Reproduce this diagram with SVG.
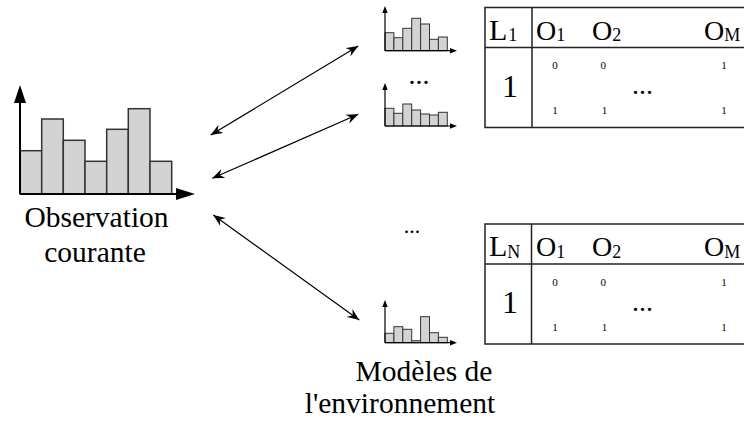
<svg xmlns="http://www.w3.org/2000/svg" width="744" height="421" viewBox="0 0 744 421" font-family="'Liberation Serif', 'Times New Roman', 'DejaVu Serif', serif">
<style>
text{font-family:'Liberation Serif','Times New Roman','DejaVu Serif',serif;fill:#000}
.lbl{font-size:29.5px}
.hdr{font-size:28px}
.lhdr{font-size:30px}
.sub{font-size:18px}
.big{font-size:32px}
.sm{font-size:11px}
.bar{fill:#d3d3d3;stroke:#333;stroke-width:1.5}
.sbar{fill:#d3d3d3;stroke:#333;stroke-width:1}
.axis{stroke:#000;stroke-width:2;fill:none}
.saxis{stroke:#000;stroke-width:1.2;fill:none}
.tbl{fill:#fff;stroke:#222;stroke-width:1.5}
.conn{stroke:#000;stroke-width:1.2;fill:none;marker-start:url(#ah);marker-end:url(#ah)}
</style>
<defs>
<marker id="ah" viewBox="-12 -5 13 10" refX="0" refY="0" markerWidth="13" markerHeight="10" markerUnits="userSpaceOnUse" orient="auto-start-reverse">
<path d="M0,0 L-12,-4.8 L-8,0 L-12,4.8 Z" fill="#000"/>
</marker>
</defs>

<g id="observation">
<rect class="bar" x="20" y="150.7" width="21.7" height="43.3"/>
<rect class="bar" x="41.7" y="119" width="21.6" height="75"/>
<rect class="bar" x="63.3" y="140.3" width="21.7" height="53.7"/>
<rect class="bar" x="85" y="161.3" width="21.7" height="32.7"/>
<rect class="bar" x="106.7" y="129.3" width="21.6" height="64.7"/>
<rect class="bar" x="128.3" y="108.7" width="21.7" height="85.3"/>
<rect class="bar" x="150" y="161.3" width="21.7" height="32.7"/>
<path class="axis" d="M20,194 V100 M20,194 H178"/>
<path d="M20,85 L14,103 L26,103 Z M195,194 L176,188 L176,200 Z" fill="#000"/>
<text class="lbl" x="96.5" y="227" text-anchor="middle">Observation</text>
<text class="lbl" x="95" y="262" text-anchor="middle">courante</text>
</g>

<g id="model1-hist">
<rect class="sbar" x="385" y="32.7" width="8.9" height="18"/>
<rect class="sbar" x="393.9" y="37.7" width="8.9" height="13"/>
<rect class="sbar" x="402.8" y="28.3" width="8.9" height="22.4"/>
<rect class="sbar" x="411.7" y="18.3" width="8.9" height="32.4"/>
<rect class="sbar" x="420.6" y="24" width="8.9" height="26.7"/>
<rect class="sbar" x="429.5" y="39.3" width="8.9" height="11.4"/>
<rect class="sbar" x="438.4" y="37" width="8.9" height="13.7"/>
<path class="saxis" d="M385,50.7 V12 M385,50.7 H451"/>
<path d="M385,6 L382.3,13 L387.7,13 Z M457,50.7 L450,48 L450,53.4 Z" fill="#000"/>
</g>

<g id="dots-top">
<text class="hdr" x="419" y="84" text-anchor="middle">...</text>
</g>

<g id="model2-hist">
<rect class="sbar" x="385" y="108.3" width="8.9" height="17.7"/>
<rect class="sbar" x="393.9" y="113.3" width="8.9" height="12.7"/>
<rect class="sbar" x="402.8" y="104" width="8.9" height="22"/>
<rect class="sbar" x="411.7" y="110" width="8.9" height="16"/>
<rect class="sbar" x="420.6" y="114" width="8.9" height="12"/>
<rect class="sbar" x="429.5" y="115" width="8.9" height="11"/>
<rect class="sbar" x="438.4" y="112.3" width="8.9" height="13.7"/>
<path class="saxis" d="M385,126 V89 M385,126 H451"/>
<path d="M385,83 L382.3,90 L387.7,90 Z M457,126 L450,123.3 L450,128.7 Z" fill="#000"/>
</g>

<g id="dots-mid">
<text class="hdr" x="412" y="233" text-anchor="middle" style="font-size:22px">...</text>
</g>

<g id="modelN-hist">
<rect class="sbar" x="385" y="333.3" width="8.9" height="9.4"/>
<rect class="sbar" x="393.9" y="326.7" width="8.9" height="16"/>
<rect class="sbar" x="402.8" y="329.3" width="8.9" height="13.4"/>
<rect class="sbar" x="411.7" y="340.7" width="8.9" height="2"/>
<rect class="sbar" x="420.6" y="316.7" width="8.9" height="26"/>
<rect class="sbar" x="429.5" y="332.7" width="8.9" height="10"/>
<rect class="sbar" x="438.4" y="337.3" width="8.9" height="5.4"/>
<path class="saxis" d="M385,342.7 V306 M385,342.7 H451"/>
<path d="M385,300 L382.3,307 L387.7,307 Z M457,342.7 L450,340 L450,345.4 Z" fill="#000"/>
</g>

<g id="table1">
<rect class="tbl" x="485" y="7.5" width="290" height="120"/>
<path class="tbl" d="M485,47.5 H775 M532,7.5 V127.5"/>
<text class="lhdr" x="489" y="39.5">L<tspan class="sub" dx="1" dy="1.5">1</tspan></text>
<text class="hdr" x="536" y="39.5">O<tspan class="sub" dy="1.5">1</tspan></text>
<text class="hdr" x="592" y="39.5">O<tspan class="sub" dy="1.5">2</tspan></text>
<text class="hdr" x="704" y="39.5">O<tspan class="sub" dy="1.5">M</tspan></text>
<text class="big" x="510" y="96.7" text-anchor="middle">1</text>
<text class="sm" x="555" y="69" text-anchor="middle">0</text>
<text class="sm" x="603.3" y="69" text-anchor="middle">0</text>
<text class="sm" x="724" y="69" text-anchor="middle">1</text>
<text class="sm" x="555" y="114.3" text-anchor="middle">1</text>
<text class="sm" x="604.5" y="114.3" text-anchor="middle">1</text>
<text class="sm" x="724" y="114.3" text-anchor="middle">1</text>
<text class="hdr" x="642.5" y="94" text-anchor="middle">...</text>
</g>

<g id="tableN">
<rect class="tbl" x="485" y="224" width="290" height="120"/>
<path class="tbl" d="M485,264 H775 M531.5,224 V344"/>
<text class="lhdr" x="489" y="256">L<tspan class="sub" dy="1.5">N</tspan></text>
<text class="hdr" x="536" y="256">O<tspan class="sub" dy="1.5">1</tspan></text>
<text class="hdr" x="592" y="256">O<tspan class="sub" dy="1.5">2</tspan></text>
<text class="hdr" x="704" y="256">O<tspan class="sub" dy="1.5">M</tspan></text>
<text class="big" x="510" y="313.2" text-anchor="middle">1</text>
<text class="sm" x="555" y="285.5" text-anchor="middle">0</text>
<text class="sm" x="603.3" y="285.5" text-anchor="middle">0</text>
<text class="sm" x="724" y="285.5" text-anchor="middle">1</text>
<text class="sm" x="555" y="330.8" text-anchor="middle">1</text>
<text class="sm" x="604.5" y="330.8" text-anchor="middle">1</text>
<text class="sm" x="724" y="330.8" text-anchor="middle">1</text>
<text class="hdr" x="642.5" y="310.5" text-anchor="middle">...</text>
</g>

<g id="models-label">
<text class="lbl" x="424" y="381" text-anchor="middle">Modèles de</text>
<text class="lbl" x="400" y="413" text-anchor="middle">l'environnement</text>
</g>

<g id="connectors">
<line class="conn" x1="210.7" y1="135" x2="358.3" y2="46"/>
<line class="conn" x1="212.3" y1="178.3" x2="358.3" y2="114.3"/>
<line class="conn" x1="213.3" y1="215" x2="359.3" y2="320"/>
</g>
</svg>
